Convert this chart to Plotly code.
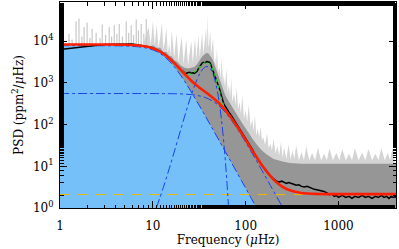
import plotly.graph_objects as go

# ---------------- data ----------------
freq_model = [1, 2, 3, 5, 7, 9, 11, 13, 15, 17, 20, 23, 26, 30, 35, 40, 46, 52, 60, 70,
              80, 90, 100, 115, 130, 150, 175, 200, 250, 300, 400, 600, 1000, 2000, 4200]
harvey1 = [7800, 7797, 7784, 7675, 7341, 6662, 5648, 4474, 3365, 2457, 1510, 941, 605, 353, 195, 115,
           66.4, 40.8, 23.0, 12.5, 7.31, 4.56, 3.0, 1.71, 1.05, 0.59, 0.32, 0.187, 0.08, 0.04, 0.012,
           0.003, 0.0005, 0.0001, 0.00001]
harvey2 = [556, 556, 556, 556, 555.8, 555.5, 554.9, 553.8, 552.2, 549.7, 544.1, 535.5, 523.3, 500.5,
           461.3, 411.8, 344.8, 278, 200.6, 129.8, 84.2, 55.7, 37.9, 22.3, 13.9, 7.92, 4.30, 2.53, 1.04,
           0.50, 0.159, 0.03, 0.004, 0.0003, 0.00002]
total_fit = [8358, 8355, 8342, 8233, 7899, 7220, 6205, 5030, 3919, 3009, 2056, 1479, 1130, 856, 658, 529,
             413, 321, 226, 144, 93.6, 62.4, 43, 26.1, 17.1, 10.6, 6.7, 4.8, 3.2, 2.65, 2.3, 2.17, 2.15,
             2.15, 2.15]
white_noise = 2.1

freq_gauss = [10.9, 13, 15, 17, 20, 23, 26, 30, 33, 36, 38.2, 40, 43, 46, 50, 55, 60, 63, 66, 68]
gauss = [1.0, 3.13, 8.67, 22.0, 76.2, 218, 518, 1219, 1862, 2350, 2470, 2388, 1941, 1304, 573, 127,
         16.8, 3.86, 0.74, 0.22]

freq_green = [19, 20, 23, 26, 30, 33, 36, 38, 40, 43, 46, 50, 55, 60, 65, 70, 75]
fit_with_gauss = [2375, 2132, 1697, 1648, 2075, 2586, 2978, 3046, 2917, 2409, 1717, 923, 409, 243,
                  182, 144, 116]

freq_smooth = [1, 1.2, 1.5, 2, 2.5, 3, 4, 5, 6, 7, 8, 9, 10, 11, 12, 13, 14, 15, 16, 17, 18, 19, 20,
               21, 22, 23, 24, 25, 26, 27, 28, 29, 30, 31, 32, 33, 34, 35, 36, 37, 38, 39, 40, 41, 42,
               43, 44, 46, 48, 50, 52, 54, 56, 58, 60, 63, 66, 70, 75, 80, 85, 90, 95, 100, 105, 110,
               115, 120, 125, 130, 140, 150, 160, 170, 180, 190, 200, 215, 230, 245, 260, 275, 290,
               310, 330, 350, 375, 400, 430, 460, 500, 550, 600, 650, 700, 750, 800, 850, 900, 950,
               1000, 1100, 1200, 1300, 1400, 1500, 1650, 1800, 1950, 2100, 2300, 2500, 2700, 2900,
               3100, 3300, 3500, 3700, 3900, 4100, 4200]
psd_smooth = [6300, 6600, 7100, 7700, 8100, 8300, 8400, 8500, 8600, 8100, 7800, 7400, 6900, 6300,
              5700, 5100, 4500, 4000, 3500, 3000, 2600, 2300, 2050, 1900, 1800, 1700, 1750, 1800,
              1700, 1750, 1700, 1800, 1900, 2200, 2500, 2800, 3000, 3100, 3000, 3100, 3250, 3200,
              3150, 3100, 2800, 2500, 2100, 1600, 1250, 1000, 750, 550, 400, 320, 280, 230, 200,
              165, 130, 105, 85, 68, 55, 46, 40, 33, 28, 24, 20, 17, 13, 10.5, 8.5, 7.5, 6.3, 5.5,
              5.0, 4.4, 4.2, 4.4, 4.1, 3.9, 4.1, 3.8, 3.7, 3.5, 3.6, 3.3, 3.2, 3.3, 3.0, 2.8, 2.7,
              2.6, 2.5, 2.3, 2.1, 2.2, 1.9, 2.0, 1.8, 2.0, 1.8, 1.9, 1.7, 1.9, 1.8, 2.0, 1.8, 1.9,
              1.7, 1.9, 1.8, 2.0, 1.8, 1.9, 1.7, 1.9, 1.8, 1.9, 1.8]

# raw spectrum: light envelope, dense band, and low-frequency spikes
freq_raw_light = [8, 9, 9.5, 10, 10.5, 11, 11.5, 12, 12.5, 13, 13.5, 14, 14.5, 15, 15.5, 16, 17,
                  17.5, 18, 19, 19.5, 20.5, 21.5, 22, 23, 24, 24.5, 26, 27, 28.5, 29.5, 30, 31, 32,
                  33, 34, 35, 36, 37.5, 38.3, 39, 39.7, 40.5, 41.5, 42.5, 43, 44.5, 46, 47, 48, 49,
                  50.5, 52, 54, 55, 57, 58, 60, 62, 64, 66, 68, 70, 72, 75, 78, 80, 83, 86, 89, 92,
                  96, 100, 104, 108, 113, 118, 122, 126, 130, 135, 140, 145, 150, 155, 162, 170, 177,
                  185, 192, 200, 210, 220, 230, 240, 250, 260, 275, 290, 305, 320, 335, 350, 375, 400,
                  425, 450, 485, 520, 560, 600, 650, 700, 750, 800, 870, 950, 1020, 1100, 1200, 1300,
                  1400, 1500, 1650, 1800, 1950, 2100, 2300, 2500, 2700, 2900, 3150, 3400, 3600, 3800,
                  4000, 4200]
psd_raw_light = [9000, 22000, 8000, 30000, 8000, 25000, 7000, 12000, 28000, 6500, 10000, 22000, 5000,
                 9000, 4500, 18000, 4000, 7000, 15000, 3000, 6000, 13000, 2800, 5000, 11000, 2500,
                 4000, 10000, 3000, 12000, 3500, 6000, 14000, 4000, 7000, 16000, 5000, 8000, 20000,
                 6000, 45000, 7000, 9000, 18000, 5000, 6000, 12000, 3000, 4000, 2200, 7000, 1800,
                 2500, 1300, 4000, 1000, 1500, 800, 2200, 600, 900, 450, 1300, 350, 550, 300, 800,
                 230, 350, 180, 500, 140, 220, 115, 300, 90, 130, 70, 170, 55, 80, 50, 90, 42, 50,
                 33, 60, 27, 35, 24, 45, 20, 30, 18, 38, 16, 28, 15, 34, 15, 24, 15, 32, 14, 22, 14,
                 30, 14, 21, 14, 28, 14, 20, 14, 27, 14, 21, 14, 26, 14, 20, 14, 27, 14, 21, 14, 26,
                 14, 20, 14, 27, 14, 21, 14, 26, 22]
freq_raw_dense = [9, 10, 11, 12, 13, 14, 15, 16, 17, 18, 20, 22, 24, 26, 28, 30, 32, 34, 36, 38, 40,
                  42, 44, 46, 48, 50, 53, 56, 60, 65, 70, 75, 80, 90, 100, 110, 120, 135, 150, 170,
                  200, 250, 300, 400, 600, 1000, 2000, 4200]
psd_raw_dense = [7000, 8000, 7000, 7000, 5500, 5500, 4500, 4300, 3500, 3300, 2600, 2300, 2200, 2300,
                 2400, 2800, 3500, 4300, 4800, 5300, 5000, 4400, 3700, 2800, 2100, 1600, 1100, 750,
                 520, 380, 290, 220, 165, 115, 82, 58, 44, 31, 24, 19, 15, 13, 12, 11.5, 11.5, 11.5,
                 11.5, 11.5]
spike_freq = [1.25, 1.35, 1.49, 1.6, 1.72, 1.82, 1.96, 2.1, 2.22, 2.45, 2.7, 2.85, 3.1, 3.39, 3.6,
              3.84, 4.1, 4.35, 4.7, 5.17, 5.5, 5.85, 6.2, 6.63, 7.0, 7.5, 8.0, 8.5]
spike_top = [15000, 11000, 30000, 35000, 13000, 22000, 28000, 12000, 20000, 16000, 12000, 25000,
             14000, 22000, 13000, 24000, 15000, 26000, 13000, 30000, 16000, 24000, 14000, 33000,
             18000, 26000, 15000, 34000]
spike_base = 7000
floor_value = 0.1

x_ticks = [1, 10, 100, 1000]
x_ticktext = ["1", "10", "100", "1000"]
y_ticks = [1, 10, 100, 1000, 10000]
y_ticktext = ["10<sup>0</sup>", "10<sup>1</sup>", "10<sup>2</sup>", "10<sup>3</sup>", "10<sup>4</sup>"]

# ---------------- styles ----------------
FONT = "DejaVu Serif"
BLUE = "rgb(25,65,235)"
FILLC = "rgb(118,192,250)"

fig = go.Figure()

fig.add_trace(go.Scatter(
    x=freq_raw_light + freq_raw_light[::-1],
    y=psd_raw_light + [floor_value] * len(freq_raw_light),
    fill="toself", fillcolor="rgb(212,212,212)", line=dict(width=0), mode="lines",
    hoverinfo="skip", showlegend=False))
sx, sy = [], []
for f, t in zip(spike_freq, spike_top):
    sx += [f, f, None]
    sy += [spike_base, t, None]
fig.add_trace(go.Scatter(x=sx, y=sy, mode="lines", line=dict(color="rgb(200,200,200)", width=1.2),
                         hoverinfo="skip", showlegend=False))
fig.add_trace(go.Scatter(
    x=freq_raw_dense + freq_raw_dense[::-1],
    y=psd_raw_dense + [floor_value] * len(freq_raw_dense),
    fill="toself", fillcolor="rgb(150,150,150)", line=dict(width=0), mode="lines",
    hoverinfo="skip", showlegend=False))

fig.add_trace(go.Scatter(
    x=freq_model[:28] + freq_model[:28][::-1],
    y=harvey1[:28] + [floor_value] * 28,
    fill="toself", fillcolor=FILLC, line=dict(width=0, shape="spline"), mode="lines",
    hoverinfo="skip", showlegend=False))

fig.add_trace(go.Scatter(x=[freq_model[0], freq_model[-1]], y=[white_noise, white_noise], mode="lines",
                         line=dict(color="rgb(240,185,0)", width=1, dash="dash"), showlegend=False))
for yv in (harvey1, harvey2):
    fig.add_trace(go.Scatter(x=freq_model, y=yv, mode="lines",
                             line=dict(color=BLUE, width=1, dash="dashdot", shape="spline"),
                             showlegend=False))
fig.add_trace(go.Scatter(x=freq_gauss, y=gauss, mode="lines",
                         line=dict(color=BLUE, width=1, dash="dashdot", shape="spline"), showlegend=False))
fig.add_trace(go.Scatter(x=freq_smooth, y=psd_smooth, mode="lines",
                         line=dict(color="black", width=1.5), showlegend=False))
fig.add_trace(go.Scatter(x=freq_green, y=fit_with_gauss, mode="lines",
                         line=dict(color="rgb(40,220,40)", width=1.3, dash="dot", shape="spline"),
                         showlegend=False))
fig.add_trace(go.Scatter(x=freq_model, y=total_fit, mode="lines",
                         line=dict(color="rgb(255,30,0)", width=2.6, shape="spline"), showlegend=False))

axis_common = dict(type="log", showline=True, linecolor="black", linewidth=1, mirror="ticks",
                   ticks="inside", ticklen=7, tickcolor="black", tickwidth=1, showgrid=False,
                   zeroline=False, automargin=False,
                   tickfont=dict(family=FONT, size=12, color="black"),
                   minor=dict(ticks="inside", ticklen=3.5, tickcolor="black", tickwidth=1, showgrid=False))

fig.update_xaxes(range=[0, 3.62], tickmode="array", tickvals=x_ticks, ticktext=x_ticktext,
                 ticklabelstandoff=7,
                 title=dict(text="Frequency (<i>μ</i>Hz)", font=dict(family=FONT, size=12, color="black"),
                            standoff=3),
                 **axis_common)
fig.update_yaxes(range=[0, 4.94], tickmode="array", tickvals=y_ticks, ticktext=y_ticktext,
                 ticklabelstandoff=3,
                 title=dict(text="PSD (ppm<sup>2</sup>/<i>μ</i>Hz)",
                            font=dict(family=FONT, size=12, color="black"), standoff=6),
                 **axis_common)

fig.update_layout(width=399, height=249, margin=dict(l=60, r=3, t=2, b=41, autoexpand=False),
                  plot_bgcolor="white", paper_bgcolor="white", showlegend=False)

fig.write_html("out.html", config={"displayModeBar": False},
               post_script="document.body.style.margin='0';document.body.style.padding='0';")
